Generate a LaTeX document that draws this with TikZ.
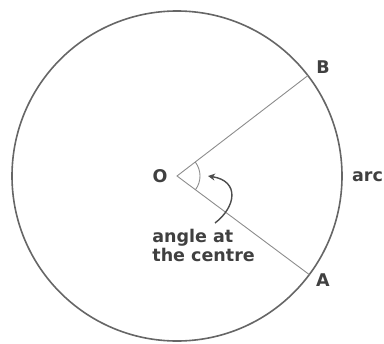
\documentclass[tikz,border=0pt]{standalone}
\usepackage{fontspec}
\setmainfont{DejaVu Sans}
\usepackage{tikz}
\usetikzlibrary{arrows.meta, positioning}

\begin{document}
\begin{tikzpicture}[x=0.5pt, y=0.5pt,
  lbl/.style={font=\bfseries\fontsize{8.75}{9.3}\selectfont, text=black!75, inner sep=0pt},
  rim/.style={draw=black!60, line width=0.8pt},
  spoke/.style={draw=black!45, line width=0.45pt},
  arr/.style={-{Stealth[length=3.5pt, width=3.5pt]}, line width=0.7pt, draw=black!70}
]
\useasboundingbox (0,0) rectangle (384,343);
\coordinate (O) at (177,167);
\coordinate (B) at ([shift={(37.5:165)}]O);
\coordinate (A) at ([shift={(-36.7:165)}]O);

\draw[rim] (O) circle[radius=165];
\draw[spoke] (A) -- (O) -- (B);
\draw[spoke] ([shift={(-36.7:23)}]O) arc[start angle=-36.7, end angle=37.5, radius=23];

\node[lbl] (labO) at (160,166.5) {O};
\node[lbl] (labB) at (323,276) {B};
\node[lbl] (labA) at (323,63) {A};
\node[lbl] (labarc) at (367.5,166.5) {arc};
\node[lbl, anchor=north west, align=left] (angtext) at (152,114) {angle at\\the centre};

\coordinate (tail) at (215,120);
\coordinate (tip) at (208,167);
\draw[arr] (tail) .. controls (236,136) and (240,162) .. (tip);
\end{tikzpicture}
\end{document}
